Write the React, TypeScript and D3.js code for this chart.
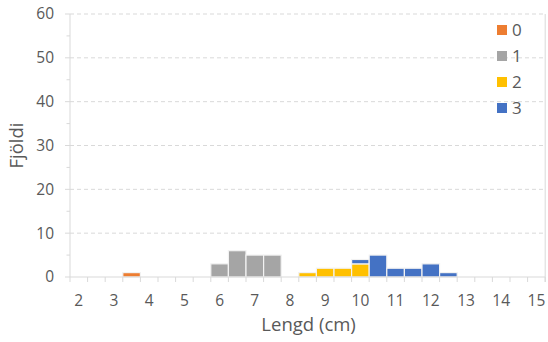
import React from "react";
import * as d3 from "d3";

// Length bins (cm), 0.5 cm wide; every whole number gets a label
const binStarts = [
  2, 2.5, 3, 3.5, 4, 4.5, 5, 5.5, 6, 6.5, 7, 7.5, 8, 8.5,
  9, 9.5, 10, 10.5, 11, 11.5, 12, 12.5, 13, 13.5, 14, 14.5, 15,
];
const xTickLabels = ["2", "3", "4", "5", "6", "7", "8", "9", "10", "11", "12", "13", "14", "15"];

// Counts per bin for each age group
const age0 = [0, 0, 0, 1, 0, 0, 0, 0, 0, 0, 0, 0, 0, 0, 0, 0, 0, 0, 0, 0, 0, 0, 0, 0, 0, 0, 0];
const age1 = [0, 0, 0, 0, 0, 0, 0, 0, 3, 6, 5, 5, 0, 0, 0, 0, 0, 0, 0, 0, 0, 0, 0, 0, 0, 0, 0];
const age2 = [0, 0, 0, 0, 0, 0, 0, 0, 0, 0, 0, 0, 0, 1, 2, 2, 3, 0, 0, 0, 0, 0, 0, 0, 0, 0, 0];
const age3 = [0, 0, 0, 0, 0, 0, 0, 0, 0, 0, 0, 0, 0, 0, 0, 0, 1, 5, 2, 2, 3, 1, 0, 0, 0, 0, 0];

const seriesNames = ["0", "1", "2", "3"];
const seriesColors = ["#ED7D31", "#A5A5A5", "#FFC000", "#4472C4"];
const yTicks = [0, 10, 20, 30, 40, 50, 60];
const yMinorTicks = [5, 15, 25, 35, 45, 55];

const W = 548;
const H = 342;
const FONT = "'Open Sans', 'Noto Sans', sans-serif";
const TEXT = "#595959";
const GRID = "#D9D9D9";

export default function App() {
  const plotLeft = 70;
  const plotRight = 545.2;
  const plotTop = 14;
  const plotBottom = 277;

  const x = d3
    .scaleBand<string>()
    .domain(binStarts.map(String))
    .range([plotLeft, plotRight])
    .paddingInner(0)
    .paddingOuter(0);
  const y = d3.scaleLinear().domain([0, 60]).range([plotBottom, plotTop]);

  const rows = binStarts.map((b, i) => ({
    bin: String(b),
    "0": age0[i],
    "1": age1[i],
    "2": age2[i],
    "3": age3[i],
  }));
  const stacked = d3.stack<any>().keys(seriesNames)(rows);

  const bw = x.bandwidth();
  const tickEdges = d3.range(binStarts.length + 1).map((i) => plotLeft + i * bw);

  return (
    <svg
      width={W}
      height={H}
      style={{ position: "absolute", left: 0, top: 0, background: "#fff" }}
      fontFamily={FONT}
    >
      {/* horizontal gridlines */}
      {yTicks.slice(1).map((t) => (
        <line
          key={"g" + t}
          x1={plotLeft}
          x2={plotRight}
          y1={y(t)}
          y2={y(t)}
          stroke={GRID}
          strokeWidth={1}
          strokeDasharray="4 3"
        />
      ))}
      {/* right edge */}
      <line x1={plotRight} x2={plotRight} y1={plotTop} y2={plotBottom + 5} stroke={GRID} strokeWidth={1} />

      {/* bars */}
      {stacked.map((s, si) =>
        s.map((d, i) =>
          d[1] - d[0] > 0 ? (
            <rect
              key={si + "-" + i}
              x={x(String(binStarts[i]))!}
              y={y(d[1])}
              width={bw}
              height={y(d[0]) - y(d[1])}
              fill={seriesColors[si]}
              stroke="#F2F2F2"
              strokeWidth={1.2}
            />
          ) : null
        )
      )}

      {/* y axis */}
      <line x1={plotLeft} x2={plotLeft} y1={plotTop} y2={plotBottom} stroke={GRID} strokeWidth={1} />
      {yTicks.map((t) => (
        <g key={"y" + t}>
          <line x1={plotLeft - 5} x2={plotLeft} y1={y(t)} y2={y(t)} stroke={GRID} />
          <text x={54} y={y(t)} dy="0.35em" textAnchor="end" fontSize={15.5} fill={TEXT}>
            {t}
          </text>
        </g>
      ))}
      {yMinorTicks.map((t) => (
        <line key={"m" + t} x1={plotLeft - 3.5} x2={plotLeft} y1={y(t)} y2={y(t)} stroke={GRID} />
      ))}

      {/* x axis */}
      <line x1={plotLeft} x2={plotRight} y1={plotBottom} y2={plotBottom} stroke={GRID} strokeWidth={1} />
      {tickEdges.map((tx, i) => (
        <line key={"xt" + i} x1={tx} x2={tx} y1={plotBottom} y2={plotBottom + 5} stroke={GRID} />
      ))}
      {xTickLabels.map((lab) => (
        <text
          key={"xl" + lab}
          x={x(lab)! + bw / 2}
          y={305.5}
          textAnchor="middle"
          fontSize={15.5}
          fill={TEXT}
        >
          {lab}
        </text>
      ))}

      {/* axis titles */}
      <text x={(plotLeft + plotRight) / 2 + 1} y={331} textAnchor="middle" fontSize={18.5} fill={TEXT}>
        Lengd (cm)
      </text>
      <text
        transform={`translate(23, ${(plotTop + plotBottom) / 2}) rotate(-90)`}
        textAnchor="middle"
        fontSize={18.5}
        fill={TEXT}
      >
        Fjöldi
      </text>

      {/* legend */}
      {seriesNames.map((n, i) => (
        <g key={"lg" + n} transform={`translate(497, ${30 + i * 26})`}>
          <rect x={0} y={-5} width={10} height={10} fill={seriesColors[i]} />
          <text x={15} y={0} dy="0.36em" fontSize={17} fill={TEXT}>
            {n}
          </text>
        </g>
      ))}
    </svg>
  );
}
